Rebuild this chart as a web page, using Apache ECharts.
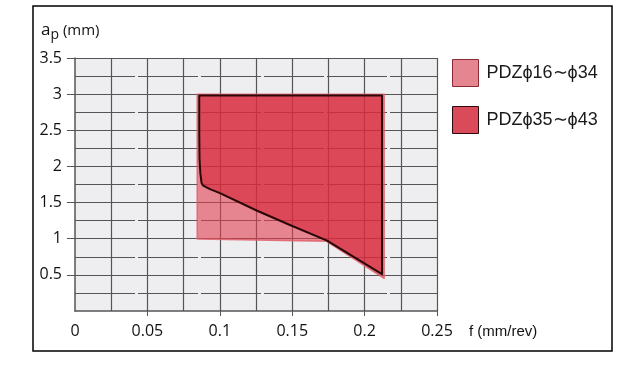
<!DOCTYPE html>
<html>
<head>
<meta charset="utf-8">
<script src="https://cdn.jsdelivr.net/npm/echarts@6/dist/echarts.min.js"></script>
<style>
html,body{margin:0;padding:0;background:#fff;}
#c{width:640px;height:366px;}
</style>
</head>
<body>
<div id="c"></div>
<script>
// ---- data ----
const seriesNames = ['PDZϕ16∼ϕ34', 'PDZϕ35∼ϕ43'];
// PDZϕ16∼ϕ34 region outline (f, ap)
const lightF = [0.0844, 0.2135, 0.2135, 0.1737, 0.0844];
const lightAp = [3.0, 3.0, 0.453, 0.965, 0.997];
// PDZϕ35∼ϕ43 region outline (f, ap)
const darkF = [0.0858, 0.2120, 0.2120, 0.1741, 0.1484, 0.1254, 0.1001, 0.0932, 0.0885, 0.0874, 0.0866, 0.0860, 0.0858];
const darkAp = [2.98, 2.98, 0.51, 0.974, 1.19, 1.39, 1.63, 1.686, 1.735, 1.77, 1.90, 2.10, 2.50];
const xTicks = [0, 0.05, 0.1, 0.15, 0.2, 0.25];
const yTicks = [0.5, 1, 1.5, 2, 2.5, 3, 3.5];

const chart = echarts.init(document.getElementById('c'), null, {renderer: 'canvas'});

function polySeries(name, fs, aps, fill, stroke, lw, legendColor, legendBorder, z) {
  const pts = fs.map((f, i) => [f, aps[i]]);
  return {
    name: name,
    type: 'custom',
    z: z,
    itemStyle: {color: legendColor, borderColor: legendBorder, borderWidth: 1},
    data: pts,
    renderItem: function (params, api) {
      if (params.dataIndex !== 0) return null;
      const points = pts.map(p => api.coord(p));
      return {
        type: 'polygon',
        shape: {points: points},
        style: {fill: fill, stroke: stroke, lineWidth: lw, lineJoin: 'round'}
      };
    },
    silent: true,
    animation: false
  };
}

const labelFont = '"Open Sans", "Noto Sans", sans-serif';

const option = {
  backgroundColor: '#ffffff',
  animation: false,
  grid: {left: 75, right: 203, top: 58, bottom: 55, show: true, backgroundColor: '#eeeef0', borderWidth: 0},
  legend: {
    orient: 'vertical',
    left: 447, top: 54,
    itemWidth: 26, itemHeight: 27, itemGap: 19,
    icon: 'rect',
    textStyle: {fontSize: 18, color: '#1a1a1a', fontFamily: '"Liberation Sans", Arial, sans-serif', padding: [0, 0, 0, 3]},
    data: [
      {name: seriesNames[0], itemStyle: {color: '#e5858f', borderColor: '#8a2a35', borderWidth: 1}},
      {name: seriesNames[1], itemStyle: {color: '#db4a5a', borderColor: '#2a0a0a', borderWidth: 1}}
    ]
  },
  xAxis: {
    type: 'value', min: 0, max: 0.25, interval: 0.05,
    axisLine: {show: true, lineStyle: {color: '#555', width: 1.5}},
    axisTick: {show: true, length: 5, lineStyle: {color: '#555'}, customValues: xTicks.slice(1)},
    axisLabel: {fontSize: 16, color: '#111', margin: 12, fontFamily: labelFont,
      formatter: v => String(+v.toFixed(2))},
    splitLine: {show: true, lineStyle: {color: '#555', width: 1.2}},
    minorTick: {show: false, splitNumber: 2},
    minorSplitLine: {show: true, lineStyle: {color: '#555', width: 1.2}}
  },
  yAxis: {
    type: 'value', min: 0, max: 3.5, interval: 0.5,
    axisLine: {show: true, lineStyle: {color: '#555', width: 1.5}},
    axisTick: {show: true, length: 8, lineStyle: {color: '#555'}, customValues: yTicks},
    axisLabel: {fontSize: 16, color: '#111', margin: 13, fontFamily: labelFont,
      formatter: v => (v === 0 ? '' : String(v))},
    splitLine: {show: true, lineStyle: {color: '#555', width: 1.2}},
    minorTick: {show: false, splitNumber: 2},
    minorSplitLine: {show: true, lineStyle: {color: '#555', width: 1.2, type: [60, 3]}}
  },
  graphic: [
    {type: 'rect', shape: {x: 33, y: 6, width: 579, height: 345}, style: {fill: null, stroke: '#000', lineWidth: 1.5}, z: 100},
    {type: 'text', left: 41, top: 22, style: {
      text: '{a|a}{p|p}{m| (mm)}',
      rich: {
        a: {fontSize: 17, fontFamily: labelFont, fill: '#111', verticalAlign: 'middle'},
        p: {fontSize: 14, fontFamily: labelFont, fill: '#111', verticalAlign: 'middle', padding: [9, 0, 0, 0]},
        m: {fontSize: 15, fontFamily: labelFont, fill: '#111', verticalAlign: 'middle', padding: [1, 0, 0, 0]}
      }
    }},
    {type: 'text', left: 469, top: 324, style: {text: 'f (mm/rev)', fontSize: 15, fontFamily: '"Liberation Sans", Arial, sans-serif', fill: '#111'}}
  ],
  series: [
    polySeries(seriesNames[0], lightF, lightAp, 'rgba(225,61,78,0.6)', 'rgba(225,90,105,0.8)', 1.5, '#e5858f', '#8a2a35', 2),
    polySeries(seriesNames[1], darkF, darkAp, 'rgba(213,35,55,0.62)', '#2a0808', 2, '#db4a5a', '#2a0a0a', 3)
  ]
};
chart.setOption(option);
</script>
</body>
</html>
